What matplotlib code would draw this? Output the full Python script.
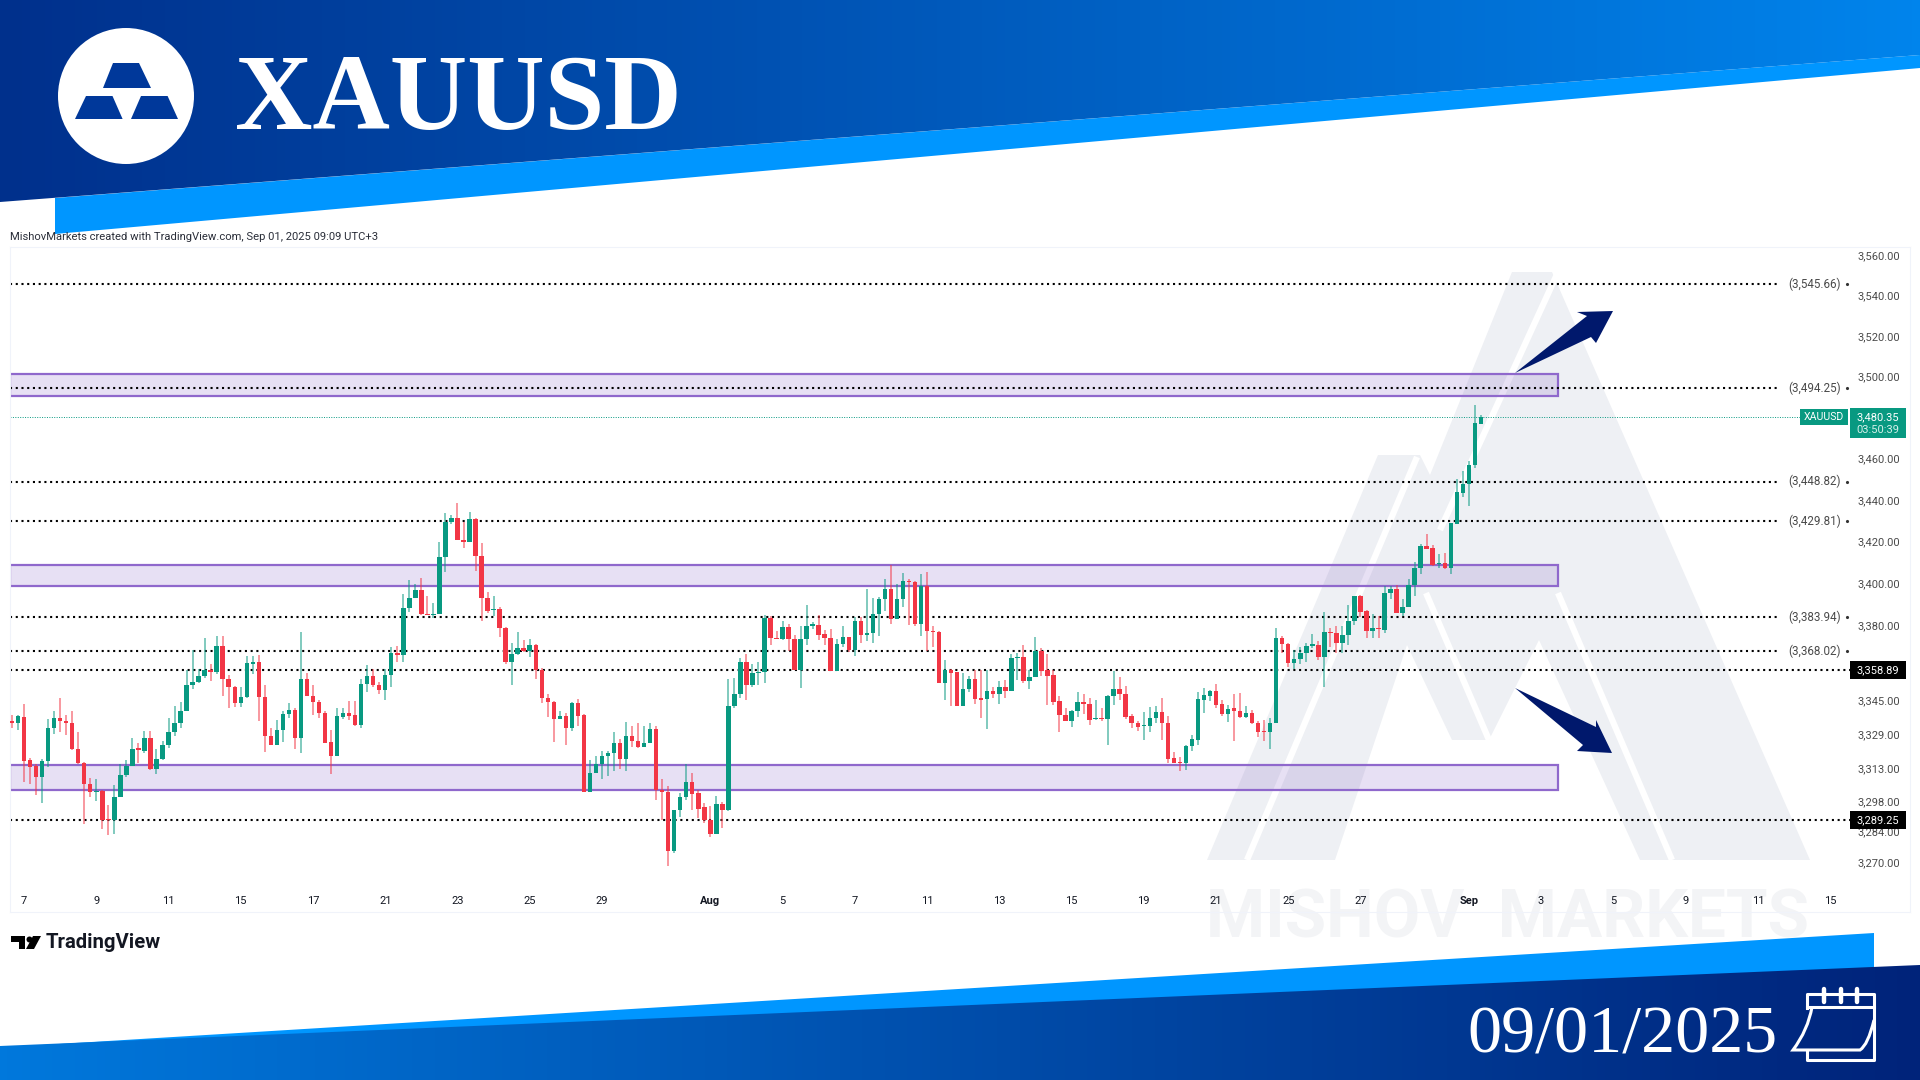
import numpy as np
import matplotlib
matplotlib.use('Agg')
import matplotlib.pyplot as plt
from matplotlib.patches import Polygon, Circle, Rectangle, PathPatch
from matplotlib.path import Path
from matplotlib.colors import LinearSegmentedColormap

# candles
opens = [3335,3334,3337,3317,3314,3309,3316.5,3332,3336.5,3335,
    3334,3322,3315.5,3306,3302,3302.5,3289.5,3289,3300,3310,
    3314,3322.5,3321,3327,3313,3317.5,3324,3330,3334,3340,
    3352,3353.5,3356,3359,3358,3370.5,3355,3351,3343.5,3346.5,
    3362,3363,3346.5,3328,3324,3331,3338.5,3340.5,3327,3355,
    3347,3344,3339,3325.5,3319,3337,3339,3338,3333.5,3352.5,
    3356,3352,3349.5,3356.5,3367,3366,3388.5,3393,3397,3385.5,
    3385,3385.5,3412.5,3429.5,3431.5,3421,3420,3431,3413,3393,
    3387.5,3388,3379,3363,3366.8,3369.5,3368,3371,3359,3346,
    3344,3336,3337.7,3332,3343.6,3338,3302,3311,3315,3319,
    3320,3325,3317.5,3328,3326,3323,3325,3331.5,3303,3302,
    3275,3294,3300,3307,3301.5,3295,3289,3283,3296.5,3294,
    3342,3348,3363,3352,3357.5,3358,3383.5,3374,3373.5,3379.2,
    3373.5,3359,3373.5,3380,3380.5,3376,3374,3358.7,3371.5,3374.7,
    3368.5,3382.3,3375.5,3376.6,3385.3,3392.5,3397.2,3383,3392.5,3401,
    3400.5,3381,3398.8,3377.5,3377,3353,3359,3358,3342,3350,
    3354.8,3345.8,3345.3,3349,3348,3351,3349,3364.8,3365,3354,
    3355.7,3368,3359,3356.5,3344.3,3338,3335,3340,3344,3343,
    3336,3336.5,3336,3347,3350,3348,3337.4,3334,3332.8,3333,
    3336.5,3339.5,3334,3317.8,3316,3315.5,3323.5,3326.5,3345,3347,
    3349,3343,3338.6,3341,3339.7,3337,3339,3334.3,3330.2,3330,
    3334,3374.2,3371.5,3362.3,3364.2,3367,3370.6,3371,3365.3,3377.2,
    3376.6,3371.7,3375.6,3382,3394,3386.8,3377.4,3378.6,3378,3395.6,
    3397.6,3386,3389,3399.3,3407.3,3418,3416.8,3409.3,3410,3407.3,
    3428.5,3443.5,3447.5,3456.7,3477]
closes = [3334,3337.3,3316.6,3313.5,3309,3316.5,3332,3336.5,3335,3334,
    3322,3315.5,3306,3302,3302.5,3289,3289,3300,3310,3314,
    3322,3321.5,3327,3313,3317.5,3324,3330,3334,3340,3352,
    3353.5,3356,3359,3358,3370.5,3355,3351,3343.5,3346.5,3362.5,
    3363,3346.5,3328,3324,3331,3338.5,3340.5,3327,3355,3347,
    3344,3339,3325,3319,3337.5,3339,3337.5,3333.5,3352.5,3356,
    3352,3349.5,3356.5,3367,3366,3388.5,3393,3397,3385.5,3385,
    3385.5,3412.5,3429.5,3431.5,3421,3420,3431,3413,3393,3387,
    3388,3379,3363,3366.8,3369.5,3368,3371,3359,3346,3344,
    3336,3337.7,3332,3343.6,3337.7,3302,3311,3315,3319,3320,
    3325,3317.5,3328,3326,3323,3325,3331.5,3303,3302,3275,
    3294,3300,3307,3301,3294.5,3289,3283,3296.5,3294,3342,
    3348,3363,3352,3357.5,3358,3383.6,3374,3373.5,3379.2,3373.5,
    3359,3373.5,3380,3380.5,3375.8,3374,3358.7,3371.5,3374.7,3368.5,
    3382.3,3375.5,3376.6,3385.3,3392.5,3397.2,3383,3392.5,3401,3400.5,
    3381,3398.8,3377.5,3377,3353,3359,3357.5,3342,3350,3354.8,
    3345.5,3345.2,3349,3348,3351,3349,3364.6,3365.3,3354,3355.7,
    3368,3358.5,3356,3344,3338,3335,3340,3344,3343,3335.7,
    3336.3,3336,3347,3350,3348,3336.8,3334,3332.4,3333.4,3336.5,
    3339.5,3334,3317.5,3315.6,3315.5,3323.7,3326.8,3345.3,3347.3,3349,
    3342.7,3338.5,3340.6,3339.6,3337,3339,3334,3330,3330,3334,
    3374.2,3371.3,3362.3,3364.2,3367,3370.2,3371,3365,3377,3376.6,
    3371.7,3375.6,3382,3394,3386.4,3377.4,3378.7,3378.3,3395.6,3397.6,
    3386,3389,3399.3,3407.3,3418,3416.3,3408.8,3410,3407.3,3428.8,
    3443.8,3447.8,3457,3477.3,3480.35]
highs = [3338,3338,3343,3318,3315,3317.5,3336,3340,3346,3338,
    3340,3330,3316,3308.5,3308,3303,3296,3305.5,3315,3317,
    3327,3325,3330.5,3330.5,3322,3326,3336.5,3342,3344,3359,
    3368.5,3359.5,3374,3362,3375,3375,3356.5,3351.5,3351,3365.5,
    3365.5,3366,3352,3332,3335.5,3340,3343.5,3341,3377,3357.5,
    3352,3345,3340,3331,3341,3341,3344.5,3344.5,3355,3361.5,
    3359.5,3353.5,3359.5,3370,3370.5,3395,3401.5,3400,3402.5,3394,
    3390.5,3420,3433.6,3432.7,3438.7,3429.5,3434,3431.5,3419.5,3396,
    3394,3389,3379.5,3372,3377,3373,3373.5,3371.5,3360,3348,
    3344.5,3340,3339,3344,3345.5,3338.5,3317,3319,3321,3321,
    3330,3326.6,3334.6,3333,3334,3333,3334,3333,3308,3305,
    3294,3301.5,3315,3311,3303,3297,3295.5,3300.5,3297.5,3355,
    3355.5,3364.5,3366.5,3362,3363,3385,3384.5,3377.3,3382.3,3381,
    3375.6,3379.7,3390,3381.5,3385,3378,3378.5,3373.5,3379.7,3374.7,
    3384.3,3384,3397.5,3393,3393.8,3402,3409,3399.8,3404.8,3402.3,
    3401,3404.5,3405.5,3380,3377.5,3364,3359.3,3358.3,3357.5,3356,
    3359,3359,3359,3351,3354,3354.5,3366.8,3367,3371,3359,
    3374.7,3369.4,3366.5,3359,3346.7,3341,3340.3,3348.6,3348,3346,
    3345,3341,3347.5,3358.5,3355.6,3351.7,3338.5,3335,3339.5,3341.7,
    3342,3346,3337.4,3320.6,3318.4,3324,3328.4,3348.6,3350.6,3349.8,
    3352.3,3345,3342.7,3347.6,3348.3,3342,3340.5,3335.2,3335.5,3336.4,
    3379,3375.3,3371.8,3368.3,3370,3371.8,3376,3372.6,3386.5,3379,
    3379.6,3380,3389.6,3394,3394.3,3387.3,3385.5,3384.7,3399,3399,
    3399.3,3392.8,3402,3410.3,3419,3423.5,3418.4,3414,3414.7,3429,
    3450,3453.8,3459,3486,3481]
lows = [3332,3331,3306.8,3305.8,3300.6,3297,3313.5,3329,3330,3328.5,
    3321.5,3315,3287.5,3300,3298,3285,3282.5,3283,3300,3309,
    3314,3315.5,3320,3312.5,3310.5,3317,3322.5,3328,3332,3340,
    3350,3353,3355.5,3354,3357,3347,3341,3341.5,3341.5,3346,
    3357,3335,3320.5,3324,3324,3325.5,3336.5,3322,3320,3347,
    3338,3336.5,3325,3310.5,3319,3336,3335.5,3333,3332,3348.5,
    3351,3348,3345,3351,3363,3363,3386.5,3393,3385,3385,
    3383.5,3385.5,3405.5,3428.5,3421,3417,3420,3406,3382,3386,
    3384.5,3374.5,3362,3352,3366,3367.5,3365,3355,3343.6,3337,
    3325.5,3336,3324,3330.7,3333,3302,3302,3311,3308,3309.7,
    3312,3313,3312,3323,3322.5,3323,3325,3298.5,3289,3268,
    3274,3290.5,3298.5,3294,3290,3288,3281.5,3283,3285.5,3293.5,
    3341,3346,3345,3351,3352,3353,3370.7,3373.5,3373,3368,
    3359,3350.5,3371,3378.5,3373,3371,3358.7,3358.7,3370,3367.5,
    3365.7,3371.6,3372.7,3371.6,3375.3,3387,3381,3383,3389,3380.5,
    3380,3375.3,3368,3370,3353,3345,3342,3342,3342,3348.6,
    3343,3336.5,3331.6,3345.8,3343,3346,3349,3354.5,3353,3350,
    3355.7,3356,3342.4,3342.4,3330,3335,3332.4,3337,3338.3,3333.3,
    3335.4,3335,3324,3342.7,3345,3336,3332,3330.5,3326.5,3330,
    3334,3326.5,3315.6,3315.6,3311.7,3312.3,3321,3324,3339,3344.5,
    3341.4,3337.4,3334.6,3326,3336.4,3336.4,3333.6,3327.6,3326,3322,
    3334,3367,3360.4,3359.6,3361.9,3363,3369.6,3364,3351,3370,
    3367,3367,3371,3380.5,3383.9,3374,3374,3374,3376.3,3392.5,
    3386,3384.6,3388.6,3394,3404.4,3416.3,3408.4,3407.6,3407,3404.5,
    3428.5,3441.4,3437,3455.5,3477]

level_prices = [3545.66, 3494.25, 3448.82, 3429.81, 3383.94, 3368.02]
level_labels = ['(3,545.66)', '(3,494.25)', '(3,448.82)', '(3,429.81)', '(3,383.94)', '(3,368.02)']
tag_prices = [3358.89, 3289.25]
tag_labels = ['3,358.89', '3,289.25']
last_price = 3480.35

zone_low = [3490.5, 3398.8, 3303.1]
zone_high = [3501.3, 3408.9, 3314.7]

y_ticks = [3560, 3540, 3520, 3500, 3460, 3440, 3420, 3400, 3380, 3345, 3329, 3313, 3298, 3284, 3270]
y_ticklabels = ['3,560.00', '3,540.00', '3,520.00', '3,500.00', '3,460.00', '3,440.00', '3,420.00', '3,400.00',
                '3,380.00', '3,345.00', '3,329.00', '3,313.00', '3,298.00', '3,284.00', '3,270.00']
x_ticks = [2, 14, 26, 38, 50, 62, 74, 86, 98, 116, 128, 140, 152, 164, 176, 188, 200, 212, 224, 242, 254, 266, 278, 290, 302]
x_ticklabels = ['7', '9', '11', '15', '17', '21', '23', '25', '29', 'Aug', '5', '7', '11', '13', '15', '19', '21', '25',
                '27', 'Sep', '3', '5', '9', '11', '15']

W, H = 1920, 1080
GREEN = '#089981'
RED = '#F23645'
NAVY = '#00186C'
WM = '#EEF0F4'


def bar_x(px):
    # pixel column -> candle index
    return (px - 12) / 6.02


fig = plt.figure(figsize=(19.2, 10.8), dpi=100)
fig.patch.set_facecolor('white')

# background layer in pixels
bg = fig.add_axes([0, 0, 1, 1], zorder=0)
bg.set_xlim(0, W)
bg.set_ylim(H, 0)
bg.axis('off')


def gradient(ax, pts, c0, c1):
    cmap = LinearSegmentedColormap.from_list('g', [c0, c1])
    im = ax.imshow(np.linspace(0, 1, 256).reshape(1, -1), cmap=cmap, extent=[0, W, H, 0], aspect='auto', zorder=2)
    poly = Polygon(pts, closed=True, transform=ax.transData, facecolor='none', edgecolor='none')
    ax.add_patch(poly)
    im.set_clip_path(poly)


# watermark
bg.add_patch(Polygon([(1207, 860), (1378, 455), (1420, 455), (1430, 475), (1512, 272), (1552, 272), (1810, 860)],
                     closed=True, fc=WM, ec='none', zorder=1))
bg.add_patch(Polygon([(1407, 645), (1452, 740), (1489, 740), (1539, 640), (1640, 860), (1335, 860)],
                     closed=True, fc='white', ec='none', zorder=1.1))
for a, b in [((1558, 272), (1440, 530)), ((1417, 457), (1247, 860)), ((1426, 593), (1489, 740)), ((1558, 593), (1672, 860))]:
    bg.plot([a[0], b[0]], [a[1], b[1]], color='white', lw=4.5, solid_capstyle='butt', zorder=1.2)
bg.text(1507, 938, 'MISHOV  MARKETS', family='Roboto', weight='bold', fontsize=48.5, color='#F3F4F6',
        ha='center', va='baseline', zorder=1.3)

# header and footer bands
gradient(bg, [(55, 198), (1920, 55), (1920, 68), (55, 234)], '#0096FF', '#0096FF')
gradient(bg, [(0, 0), (W, 0), (W, 55), (0, 202)], '#00308C', '#0084EC')
gradient(bg, [(0, 1047.6), (1874, 933), (1874, 990), (0, 1047.6)], '#0096FF', '#0096FF')
gradient(bg, [(0, 1046), (W, 965), (W, H), (0, H)], '#0078DC', '#00237A')
bg.set_xlim(0, W)
bg.set_ylim(H, 0)

# logo
bg.add_patch(Circle((126, 96), 68, fc='white', ec='none', zorder=3))
for pts in [[(113, 63), (139, 63), (151, 88), (103, 88)],
            [(86, 96), (112.5, 96), (122.6, 119), (75, 119)],
            [(141, 96), (167.6, 96), (178, 119), (131, 119)]]:
    bg.add_patch(Polygon(pts, closed=True, fc='#00389A', ec='none', zorder=4))
bg.text(235, 129, 'XAUUSD', family='Liberation Serif', weight='bold', fontsize=77.3, color='white',
        ha='left', va='baseline', zorder=3)
bg.text(1467, 1053, '09/01/2025', family='Liberation Serif', fontsize=49, color='white',
        ha='left', va='baseline', zorder=3)

# calendar icon
cal_lw = 2.2
bg.plot([1807, 1807, 1874, 1874, 1807, 1807], [1008, 994, 994, 1060, 1060, 1050], color='white', lw=cal_lw, zorder=3)
bg.plot([1807, 1874], [1007, 1007], color='white', lw=cal_lw, zorder=3)
sheet = Path([(1812, 1007), (1808, 1030), (1793, 1050), (1860, 1050), (1868, 1045), (1874, 1020)],
             [Path.MOVETO, Path.CURVE3, Path.CURVE3, Path.LINETO, Path.CURVE3, Path.CURVE3])
bg.add_patch(PathPatch(sheet, fc='none', ec='white', lw=cal_lw, zorder=3))
for cx in [1824, 1841, 1857]:
    bg.plot([cx, cx], [989, 1002], color='white', lw=3.2, solid_capstyle='round', zorder=3)

bg.text(10, 237, 'MishovMarkets created with TradingView.com, Sep 01, 2025 09:09 UTC+3', family='Roboto',
        fontsize=8.1, color='#2a2e39', ha='left', va='center', zorder=3)

# TradingView logo
bg.add_patch(Polygon([(11, 936), (25, 936), (25, 949), (19, 949), (19, 942), (11, 942)], closed=True, fc='black', ec='none', zorder=3))
bg.add_patch(Circle((29.5, 939.5), 3, fc='black', ec='none', zorder=3))
bg.add_patch(Polygon([(33, 936), (41, 936), (34, 949), (26, 949)], closed=True, fc='black', ec='none', zorder=3))
bg.text(46, 942.5, 'TradingView', family='Roboto', weight='bold', fontsize=14.6, color='#131722',
        ha='left', va='center', zorder=3)

# chart pane
ax = fig.add_axes([10 / W, 1 - 912 / H, 1900 / W, 665 / H], zorder=1)
ax.patch.set_alpha(0)
ax.set_yscale('log')
ax.set_xlim(bar_x(10), bar_x(1910))
ax.set_ylim(3247.1, 3564.1)
for s in ax.spines.values():
    s.set_color('#F0F3FA')

idx = np.arange(len(opens))
o = np.array(opens)
c = np.array(closes)
colors = [GREEN if cl >= op else RED for op, cl in zip(o, c)]
ax.vlines(idx, lows, highs, colors=colors, lw=1.1, alpha=0.65, zorder=3)
body = np.maximum(np.abs(c - o), 0.6)
ax.bar(idx, body, bottom=np.minimum(o, c), width=0.74, color=colors, linewidth=0, zorder=4)

for lo, hi in zip(zone_low, zone_high):
    ax.add_patch(Rectangle((bar_x(10), lo), bar_x(1558) - bar_x(10), hi - lo, fc='#7E57C2', alpha=0.18, ec='none', zorder=1))
    ax.add_patch(Rectangle((bar_x(10), lo), bar_x(1558) - bar_x(10), hi - lo, fc='none', ec='#8F68CC', lw=1.6, zorder=2))

dots = (0, (1, 1.75))
for p, lab in zip(level_prices, level_labels):
    ax.plot([bar_x(10), bar_x(1780)], [p, p], color='black', lw=1.5, ls=dots, zorder=2.5)
    ax.plot([bar_x(1847)], [p], marker='.', ms=2.5, color='#333333', zorder=2.5)
    ax.text(bar_x(1788), p, lab, fontsize=8.4, family='Roboto', color='#4a4a4a', ha='left', va='center', zorder=5)
for p, lab in zip(tag_prices, tag_labels):
    ax.plot([bar_x(10), bar_x(1850)], [p, p], color='black', lw=1.5, ls=dots, zorder=2.5)
    ax.text(bar_x(1878), p, lab, fontsize=8, family='Roboto', color='white', ha='center', va='center', zorder=8)
    ax.add_patch(Rectangle((bar_x(1850), p * 0.99875), bar_x(1906) - bar_x(1850), p * 0.0025, fc='black', ec='none', zorder=7))

# last price line and tags
ax.plot([bar_x(10), bar_x(1800)], [last_price, last_price], color=GREEN, lw=0.7, ls=(0, (1, 1.5)), zorder=2.5)
ax.add_patch(Rectangle((bar_x(1800), last_price * 0.99885), bar_x(1848) - bar_x(1800), last_price * 0.0023, fc=GREEN, ec='none', zorder=6))
ax.text(bar_x(1824), last_price, 'XAUUSD', fontsize=7.6, family='Roboto', color='white', ha='center', va='center', zorder=8)
ax.add_patch(Rectangle((bar_x(1850), last_price * 0.9970), bar_x(1906) - bar_x(1850), last_price * 0.0042, fc=GREEN, ec='none', zorder=6))
ax.text(bar_x(1878), last_price, '3,480.35', fontsize=8, family='Roboto', color='white', ha='center', va='center', zorder=8)
ax.text(bar_x(1878), last_price * 0.9981, '03:50:39', fontsize=8, family='Roboto', color='#D5F0EA', ha='center', va='center', zorder=8)

ax.yaxis.tick_right()
ax.set_yticks(y_ticks)
ax.set_yticklabels(y_ticklabels, fontsize=8, family='Roboto', color='#4a4a4a')
ax.yaxis.set_minor_locator(matplotlib.ticker.NullLocator())
ax.tick_params(axis='y', length=0, pad=-37.5)
ax.set_xticks(x_ticks)
ax.set_xticklabels(x_ticklabels, fontsize=8, family='Roboto', color='#131722')
ax.tick_params(axis='x', length=0, pad=-11.5)
for t in ax.get_xticklabels():
    if t.get_text() in ('Aug', 'Sep'):
        t.set_fontweight('bold')

# direction arrows on top
top = fig.add_axes([0, 0, 1, 1], zorder=2)
top.set_xlim(0, W)
top.set_ylim(H, 0)
top.axis('off')
top.add_patch(Polygon([(1515, 373), (1587, 316), (1577, 312), (1613, 311), (1596, 343), (1591, 337)], closed=True, fc=NAVY, ec='none'))
top.add_patch(Polygon([(1515, 688), (1596, 727), (1596, 720), (1612, 753), (1577, 751), (1583, 745)], closed=True, fc=NAVY, ec='none'))

fig.savefig('out.png', dpi=100)
